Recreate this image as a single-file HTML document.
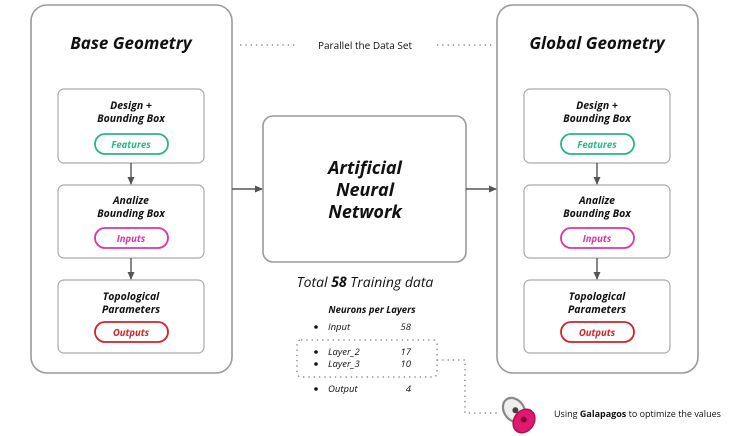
<!DOCTYPE html>
<html><head><meta charset="utf-8"><style>
body{margin:0;background:#fff}
svg{display:block}
text{font-family:"Open Sans","Liberation Sans",sans-serif;fill:#111}
.b{font-weight:bold;font-style:italic}
.i{font-style:italic}
</style></head><body>
<svg width="730" height="436" viewBox="0 0 730 436">
<defs><marker id="a" markerWidth="8" markerHeight="8" refX="7" refY="4" orient="auto" markerUnits="userSpaceOnUse"><path d="M0,0.5 L8,4 L0,7.5z" fill="#555"/></marker></defs>
<g fill="none" stroke="#9a9a9a" stroke-width="1.6">
<rect x="31" y="5" width="201" height="368" rx="16"/>
<rect x="497" y="5" width="201" height="368" rx="16"/>
<rect x="263" y="116" width="203" height="146" rx="10"/>
</g>
<g fill="none" stroke="#aaa" stroke-width="1.2">
<rect x="58" y="89" width="146" height="74" rx="6"/>
<rect x="58" y="185" width="146" height="73" rx="6"/>
<rect x="58" y="280" width="146" height="73" rx="6"/>
<rect x="524" y="89" width="146" height="74" rx="6"/>
<rect x="524" y="185" width="146" height="73" rx="6"/>
<rect x="524" y="280" width="146" height="73" rx="6"/>
</g>
<g fill="none" stroke-width="1.8">
<rect x="95" y="134" width="73" height="20" rx="10" stroke="#2bb58a"/>
<rect x="95" y="228" width="73" height="20" rx="10" stroke="#e0339e"/>
<rect x="95" y="322" width="73" height="20" rx="10" stroke="#d4222a"/>
<rect x="561" y="134" width="73" height="20" rx="10" stroke="#2bb58a"/>
<rect x="561" y="228" width="73" height="20" rx="10" stroke="#e0339e"/>
<rect x="561" y="322" width="73" height="20" rx="10" stroke="#d4222a"/>
</g>
<g stroke="#555" stroke-width="1.4" marker-end="url(#a)">
<line x1="131" y1="163" x2="131" y2="184"/>
<line x1="131" y1="258" x2="131" y2="279"/>
<line x1="597" y1="163" x2="597" y2="184"/>
<line x1="597" y1="258" x2="597" y2="279"/>
<line x1="232" y1="189" x2="262" y2="189"/>
<line x1="466" y1="189" x2="496" y2="189"/>
</g>
<g stroke="#777" stroke-width="1.3" stroke-dasharray="1.3 4" fill="none">
<line x1="240" y1="45" x2="297" y2="45"/>
<line x1="437" y1="45" x2="494" y2="45"/>
<rect x="297" y="340" width="140" height="37" rx="4"/>
<polyline points="437,360 465,360 465,413 497,413"/>
</g>
<text x="131" y="49" text-anchor="middle" class="b" font-size="17">Base Geometry</text>
<text x="597" y="49" text-anchor="middle" class="b" font-size="17">Global Geometry</text>
<text x="365" y="49" text-anchor="middle" font-size="10" fill="#333">Parallel the Data Set</text>
<g class="b" font-size="10.5" text-anchor="middle">
<text x="131" y="109">Design +</text><text x="131" y="122">Bounding Box</text>
<text x="131" y="204">Analize</text><text x="131" y="217">Bounding Box</text>
<text x="131" y="300">Topological</text><text x="131" y="313">Parameters</text>
<text x="597" y="109">Design +</text><text x="597" y="122">Bounding Box</text>
<text x="597" y="204">Analize</text><text x="597" y="217">Bounding Box</text>
<text x="597" y="300">Topological</text><text x="597" y="313">Parameters</text>
</g>
<g class="b" font-size="9.5" text-anchor="middle">
<text x="131" y="148" style="fill:#2bb58a">Features</text>
<text x="131" y="242" style="fill:#e0339e">Inputs</text>
<text x="131" y="336" style="fill:#d4222a">Outputs</text>
<text x="597" y="148" style="fill:#2bb58a">Features</text>
<text x="597" y="242" style="fill:#e0339e">Inputs</text>
<text x="597" y="336" style="fill:#d4222a">Outputs</text>
</g>
<g class="b" font-size="18" text-anchor="middle">
<text x="365" y="174">Artificial</text><text x="365" y="196">Neural</text><text x="365" y="218">Network</text>
</g>
<text x="365" y="287" text-anchor="middle" class="i" font-size="14">Total <tspan font-weight="bold">58</tspan> Training data</text>
<text x="372" y="313" text-anchor="middle" class="b" font-size="9.5">Neurons per Layers</text>
<g font-size="9.5" class="i">
<circle cx="316" cy="327" r="1.8" fill="#111"/><text x="328" y="330">Input</text><text x="411" y="330" text-anchor="end">58</text>
<circle cx="316" cy="352" r="1.8" fill="#111"/><text x="328" y="355">Layer_2</text><text x="411" y="355" text-anchor="end">17</text>
<circle cx="316" cy="364" r="1.8" fill="#111"/><text x="328" y="367">Layer_3</text><text x="411" y="367" text-anchor="end">10</text>
<circle cx="316" cy="389" r="1.8" fill="#111"/><text x="328" y="392">Output</text><text x="411" y="392" text-anchor="end">4</text>
</g>
<g transform="translate(514,410) rotate(-35)">
<ellipse cx="0" cy="0" rx="10" ry="13" fill="#eee" stroke="#888" stroke-width="2.2"/>
<circle cx="1" cy="1" r="3" fill="#444"/>
</g>
<g transform="translate(524,421) rotate(35)">
<ellipse cx="0" cy="0" rx="10" ry="12.5" fill="#e01870" stroke="#b01050" stroke-width="1.5"/>
<circle cx="-1" cy="-1" r="3" fill="#7a0a30"/>
</g>
<text x="554" y="417" font-size="9" fill="#222">Using <tspan font-weight="bold">Galapagos</tspan> to optimize the values</text>
</svg>
</body></html>
